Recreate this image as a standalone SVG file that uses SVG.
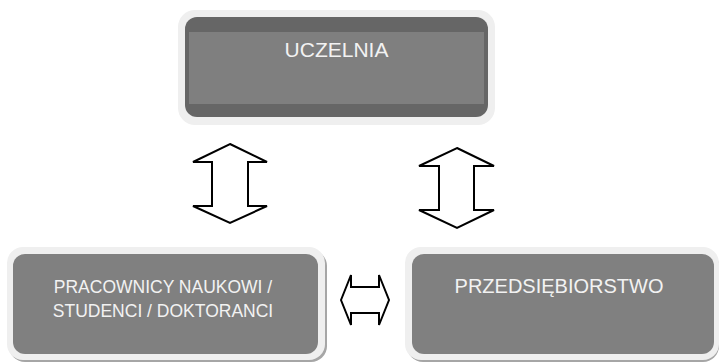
<svg xmlns="http://www.w3.org/2000/svg" width="719" height="364" viewBox="0 0 719 364">
<style>
.frame{fill:#efefef}
.shadow{fill:#a6a6a6}
.box{fill:#808080}
.dark{fill:#666666}
.band{fill:#7f7f7f}
.lbl{font-family:"Liberation Sans",Arial,sans-serif;fill:#f2f2f2;text-anchor:middle}
.arrow{fill:#ffffff;stroke:#000000;stroke-width:2;stroke-linejoin:miter}
</style>
<rect width="719" height="364" fill="#ffffff"/>
<g id="uczelnia">
<rect class="frame" x="178" y="10" width="317" height="115" rx="17"/>
<rect class="dark" x="185" y="17" width="303" height="100" rx="12"/>
<rect class="band" x="189" y="32" width="295" height="72"/>
<text class="lbl" x="336.5" y="57" font-size="21">UCZELNIA</text>
</g>
<g id="pracownicy">
<rect class="shadow" x="9" y="250" width="318" height="112" rx="16"/>
<rect class="frame" x="7" y="247" width="318" height="113" rx="16"/>
<rect class="box" x="13" y="254" width="305" height="100" rx="12"/>
<text class="lbl" x="163" y="293" font-size="17.5">PRACOWNICY NAUKOWI /</text>
<text class="lbl" x="163" y="317" font-size="17.5">STUDENCI / DOKTORANCI</text>
</g>
<g id="przedsiebiorstwo">
<rect class="shadow" x="407" y="250" width="312" height="112" rx="16"/>
<rect class="frame" x="405" y="247" width="314" height="113" rx="16"/>
<rect class="box" x="412" y="254" width="302" height="100" rx="12"/>
<text class="lbl" x="559" y="293" font-size="20">PRZEDSIĘBIORSTWO</text>
</g>
<g id="connectors">
<polygon class="arrow" points="230,144 267,162 248,162 248,206 267,206 230,223 193,206 212,206 212,162 193,162"/>
<polygon class="arrow" points="457,148 494,166 474,166 474,210 494,210 457,228 419,210 439,210 439,166 419,166"/>
<polygon class="arrow" points="341,300 351,275 351,287 379,287 379,275 389,300 379,325 379,313 351,313 351,325"/>
</g>
</svg>
